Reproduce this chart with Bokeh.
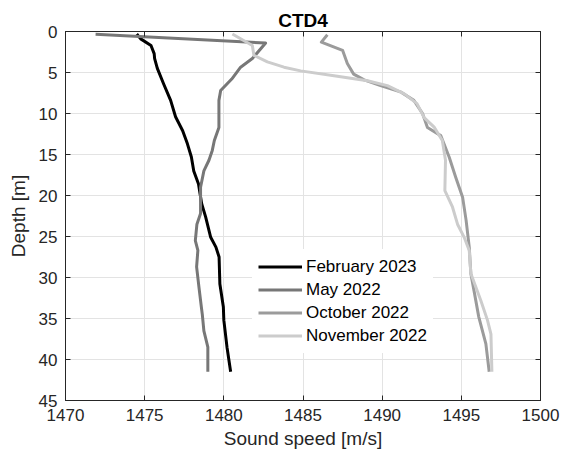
from bokeh.plotting import figure
from bokeh.models import Range1d, LinearAxis, Legend, LegendItem, FixedTicker
from bokeh.embed import file_html
from bokeh.resources import INLINE

# ---- data (sound speed [m/s], depth [m]) ----
feb_speed = [1474.5, 1474.75, 1475.4, 1475.6, 1475.63, 1475.8, 1476.2, 1476.64, 1476.95, 1477.4,
             1477.7, 1477.95, 1478.1, 1478.4, 1478.6, 1478.85, 1479.17, 1479.5, 1479.7, 1479.75,
             1479.97, 1480.0, 1480.2, 1480.43]
feb_depth = [0.3, 0.9, 1.7, 2.7, 3.3, 4.5, 6.4, 8.4, 10.4, 12.1,
             13.7, 15.3, 17.0, 18.6, 21.0, 22.6, 25.1, 26.3, 27.5, 30.8,
             33.6, 35.2, 38.5, 41.5]

may_speed = [1471.9, 1482.64, 1481.8, 1481.06, 1480.5, 1479.8, 1479.69, 1479.69, 1479.4, 1479.27,
             1479.06, 1478.74, 1478.53, 1478.53, 1478.3, 1478.2, 1478.36, 1478.28, 1478.43, 1478.58,
             1478.64, 1478.74, 1478.99, 1478.99]
may_depth = [0.35, 1.4, 3.3, 4.35, 5.8, 7.2, 8.4, 11.7, 13.3, 14.5,
             15.7, 17.0, 19.0, 22.2, 23.5, 25.5, 26.7, 28.7, 31.2, 33.6,
             34.5, 36.5, 38.5, 41.5]

oct_speed = [1486.54, 1486.16, 1487.5, 1487.8, 1488.2, 1488.86, 1489.9, 1491.2, 1492.0, 1492.55,
             1492.86, 1493.7, 1494.23, 1494.65, 1495.08, 1495.3, 1495.5, 1495.6, 1495.8, 1496.1,
             1496.55, 1496.76]
oct_depth = [0.4, 1.3, 2.3, 3.9, 5.2, 5.9, 6.6, 7.4, 8.4, 10.0,
             11.7, 12.7, 15.3, 17.8, 20.2, 23.0, 26.3, 29.5, 31.6, 34.8,
             38.1, 41.5]

nov_speed = [1480.54, 1481.8, 1481.9, 1482.75, 1483.8, 1484.85, 1486.96, 1489.07, 1490.33, 1491.4,
             1492.2, 1492.65, 1493.3, 1493.8, 1494.0, 1493.96, 1494.44, 1494.76, 1495.18, 1495.5,
             1495.6, 1496.23, 1496.65, 1496.87, 1496.93]
nov_depth = [0.3, 1.7, 2.9, 3.7, 4.35, 4.8, 5.4, 6.0, 6.6, 7.6,
             8.8, 10.5, 11.7, 13.3, 15.7, 19.4, 21.4, 23.5, 25.1, 26.7,
             29.5, 32.8, 35.2, 36.9, 41.5]

series_names = ["February 2023", "May 2022", "October 2022", "November 2022"]
series_colors = ["#000000", "#777777", "#9b9b9b", "#cccccc"]

x_ticks = [1470, 1475, 1480, 1485, 1490, 1495, 1500]
y_ticks = [0, 5, 10, 15, 20, 25, 30, 35, 40, 45]

FONT = "Liberation Sans"
AX = "#262626"

p = figure(width=568, height=459, output_backend="svg", toolbar_location=None,
           x_range=Range1d(1470, 1500), y_range=Range1d(45, 0),
           min_border_left=65, min_border_right=28, min_border_top=31, min_border_bottom=59,
           x_axis_label="Sound speed [m/s]", y_axis_label="Depth [m]",
           title="CTD4")
p.title.align = "center"
p.title.text_font = FONT
p.title.text_font_size = "19px"
p.title.text_font_style = "bold"
p.title.text_color = "#000000"
p.title.standoff = 2
p.title.offset = 0
p.background_fill_color = "white"
p.border_fill_color = "white"
p.outline_line_color = AX
p.outline_line_width = 1

for ax, ticks in ((p.xaxis[0], x_ticks), (p.yaxis[0], y_ticks)):
    ax.ticker = FixedTicker(ticks=ticks)
    ax.major_tick_in = 5
    ax.major_tick_out = 0
    ax.minor_tick_line_color = None
    ax.axis_line_color = AX
    ax.major_tick_line_color = AX
    ax.major_label_text_font = FONT
    ax.major_label_text_font_size = "17px"
    ax.major_label_text_color = AX
    ax.axis_label_text_font = FONT
    ax.axis_label_text_font_size = "19px"
    ax.axis_label_text_font_style = "normal"
    ax.axis_label_text_color = AX
p.xaxis.major_label_standoff = 8
p.xaxis.axis_label_standoff = 4
p.yaxis.major_label_standoff = 8
p.yaxis.axis_label_standoff = 7

# top & right tick marks (box style)
top = LinearAxis(ticker=FixedTicker(ticks=x_ticks), major_tick_in=5, major_tick_out=0,
                 minor_tick_line_color=None, axis_line_color=AX, major_tick_line_color=AX,
                 major_label_text_font_size="1px", major_label_text_color=None, major_label_standoff=0)
right = LinearAxis(ticker=FixedTicker(ticks=y_ticks), major_tick_in=5, major_tick_out=0,
                   minor_tick_line_color=None, axis_line_color=AX, major_tick_line_color=AX,
                   major_label_text_font_size="1px", major_label_text_color=None, major_label_standoff=0)
p.add_layout(top, "above")
p.add_layout(right, "right")

p.xgrid.ticker = FixedTicker(ticks=x_ticks)
p.ygrid.ticker = FixedTicker(ticks=y_ticks)
p.grid.grid_line_color = "#e3e3e3"
p.grid.grid_line_width = 1

data = [(feb_speed, feb_depth), (may_speed, may_depth), (oct_speed, oct_depth), (nov_speed, nov_depth)]
items = []
for (xs, ys), name, col in zip(data, series_names, series_colors):
    r = p.line(xs, ys, line_color=col, line_width=3, line_join="round")
    items.append(LegendItem(label=name, renderers=[r]))

legend = Legend(items=items, location=(187, 47), orientation="vertical",
                glyph_width=44, glyph_height=23, label_height=23, spacing=0,
                padding=6, margin=0, label_standoff=4,
                label_text_font=FONT, label_text_font_size="17px", label_text_color="#000000",
                border_line_alpha=0, background_fill_color="white", background_fill_alpha=1)
p.add_layout(legend, "center")

open("out.html", "w").write(file_html(p, INLINE))
